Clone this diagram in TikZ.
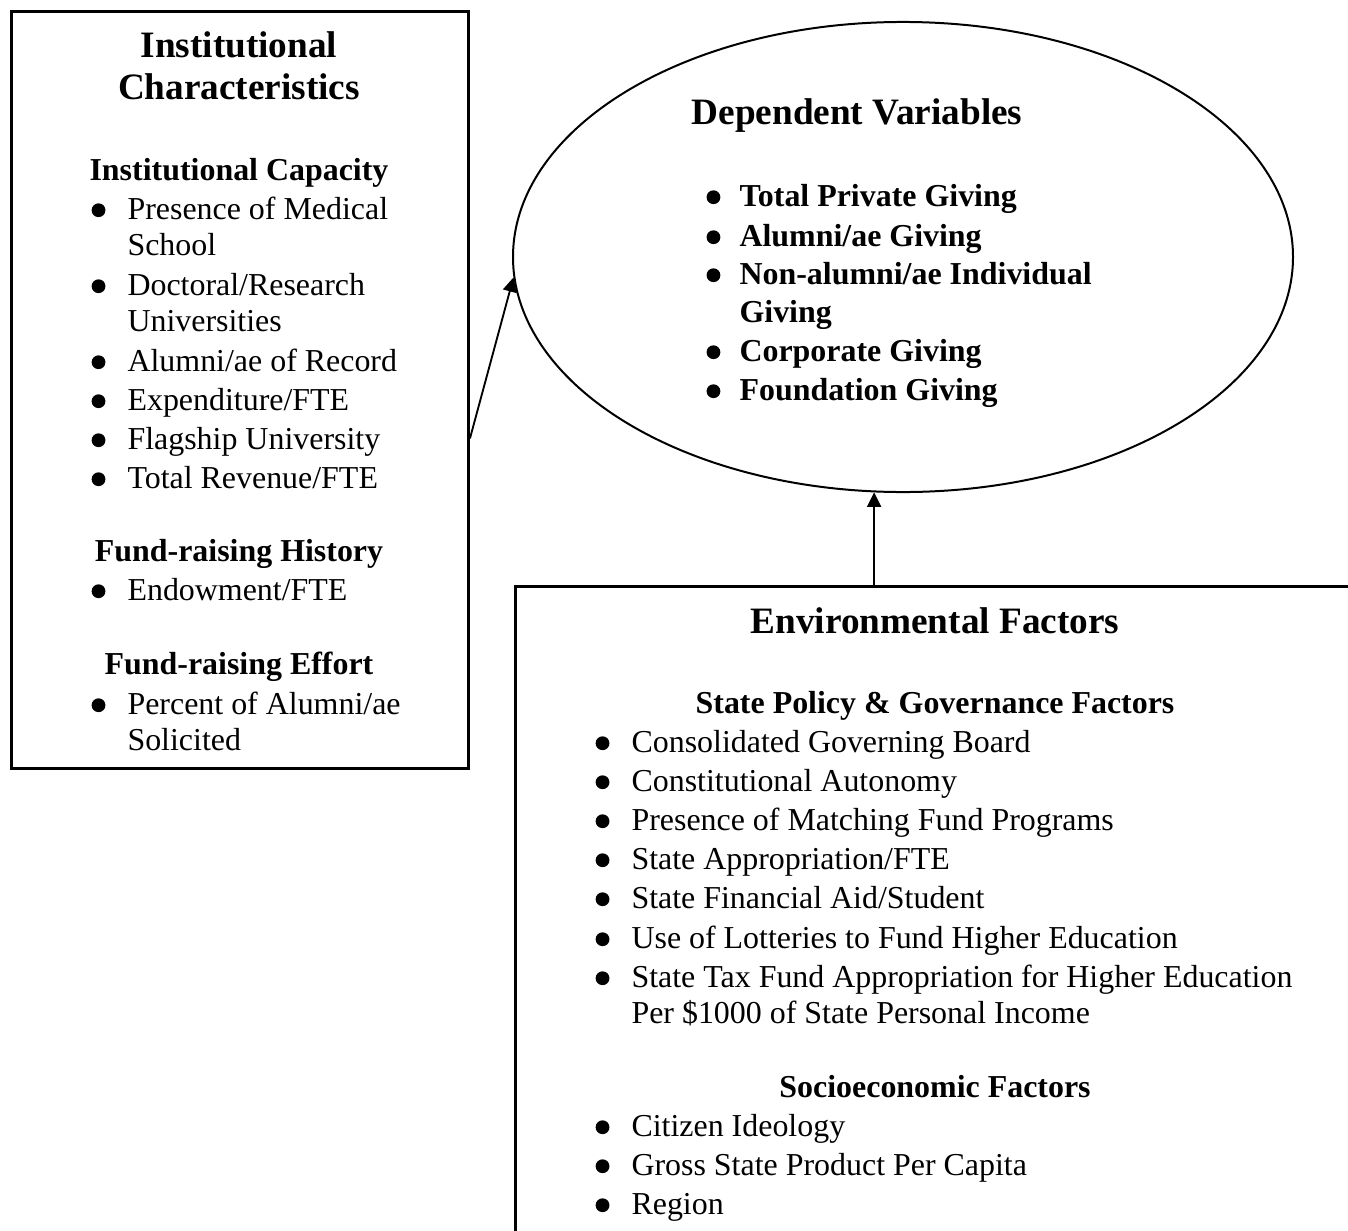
\documentclass[tikz,border=0pt]{standalone}
\usepackage{fontspec}
\setmainfont{Liberation Serif}
\usetikzlibrary{shapes.geometric,arrows.meta}
\newcommand{\itembul}[1][8.3pt]{\llap{\tikz[baseline]\fill (0,3.3pt) circle (2.6pt);\hspace{#1}}}

\begin{document}
\begin{tikzpicture}[x=0.3759pt,y=-0.3759pt,
		boxline/.style={draw,line width=1.1pt,inner sep=0pt},
		oval/.style={ellipse,draw,line width=0.75pt,inner sep=0pt},
		head/.style={anchor=base,inner sep=0pt,font=\fontsize{14}{16}\selectfont\bfseries},
		subhead/.style={anchor=base,inner sep=0pt,font=\fontsize{12}{14}\selectfont\bfseries},
		item/.style={anchor=base west,inner sep=0pt,font=\fontsize{12}{14}\selectfont},
		bolditem/.style={item,font=\fontsize{12}{14}\selectfont\bfseries},
		link/.style={line width=0.7pt,-{Triangle[length=5.4pt,width=5.2pt]}}]
		\useasboundingbox (0,0) rectangle (1348,1230);
		\clip (0,0) rectangle (1348,1230);

		% the three blocks
		\node[boxline,anchor=north west,minimum width=171.8pt,minimum height=284.6pt] (instbox) at (10,10) {};
		\node[oval,minimum width=293.2pt,minimum height=176.7pt] (depvar) at (903,257) {};
		\node[boxline,anchor=north west,minimum width=333pt,minimum height=269pt] (envbox) at (514,585) {};

		% institutional characteristics
		\node[head]		(insthdA)	at (239,57)		{Institutional};
		\node[head]		(insthdB)	at (239,99)		{Characteristics};
		\node[subhead]	(capacity)	at (239,180)	{Institutional Capacity};
		\node[item]		(cap1)		at (127,219)	{\itembul Presence of Medical};
		\node[item]		(cap1b)		at (127,255)	{School};
		\node[item]		(cap2)		at (127,295)	{\itembul Doctoral/Research};
		\node[item]		(cap2b)		at (127,331)	{Universities};
		\node[item]		(cap3)		at (127,371)	{\itembul Alumni/ae of Record};
		\node[item]		(cap4)		at (127,410)	{\itembul Expenditure/FTE};
		\node[item]		(cap5)		at (127,449)	{\itembul Flagship University};
		\node[item]		(cap6)		at (127,488)	{\itembul Total Revenue/FTE};
		\node[subhead]	(history)	at (239,561)	{Fund-raising History};
		\node[item]		(hist1)		at (127,600)	{\itembul Endowment/FTE};
		\node[subhead]	(effort)	at (239,674)	{Fund-raising Effort};
		\node[item]		(eff1)		at (127,714)	{\itembul Percent of Alumni/ae};
		\node[item]		(eff1b)		at (127,750)	{Solicited};

		% dependent variables
		\node[head]		(dephd)		at (857,124)	{Dependent Variables};
		\node[bolditem]	(dep1)		at (739,206)	{\itembul[7.2pt]Total Private Giving};
		\node[bolditem]	(dep2)		at (739,246)	{\itembul[7.2pt]Alumni/ae Giving};
		\node[bolditem]	(dep3)		at (739,284)	{\itembul[7.2pt]Non-alumni/ae Individual};
		\node[bolditem]	(dep3b)		at (739,322)	{Giving};
		\node[bolditem]	(dep4)		at (739,361)	{\itembul[7.2pt]Corporate Giving};
		\node[bolditem]	(dep5)		at (739,400)	{\itembul[7.2pt]Foundation Giving};

		% environmental factors
		\node[head]		(envhd)		at (935,633)	{Environmental Factors};
		\node[subhead]	(policy)	at (935,713)	{State Policy \& Governance Factors};
		\node[item]		(pol1)		at (631,752)	{\itembul Consolidated Governing Board};
		\node[item]		(pol2)		at (631,791)	{\itembul Constitutional Autonomy};
		\node[item]		(pol3)		at (631,830)	{\itembul Presence of Matching Fund Programs};
		\node[item]		(pol4)		at (631,869)	{\itembul State Appropriation/FTE};
		\node[item]		(pol5)		at (631,908)	{\itembul State Financial Aid/Student};
		\node[item]		(pol6)		at (631,948)	{\itembul Use of Lotteries to Fund Higher Education};
		\node[item]		(pol7)		at (631,987)	{\itembul State Tax Fund Appropriation for Higher Education};
		\node[item]		(pol7b)		at (631,1023)	{Per \$1000 of State Personal Income};
		\node[subhead]	(socio)		at (935,1097)	{Socioeconomic Factors};
		\node[item]		(soc1)		at (631,1136)	{\itembul Citizen Ideology};
		\node[item]		(soc2)		at (631,1175)	{\itembul Gross State Product Per Capita};
		\node[item]		(soc3)		at (631,1214)	{\itembul Region};

		\draw[link] ([yshift=-18.2pt]instbox.east) -- (depvar.183.7);
		\draw[link] (depvar.263.4 |- envbox.north) -- (depvar.263.4);
	\end{tikzpicture}
\end{document}
